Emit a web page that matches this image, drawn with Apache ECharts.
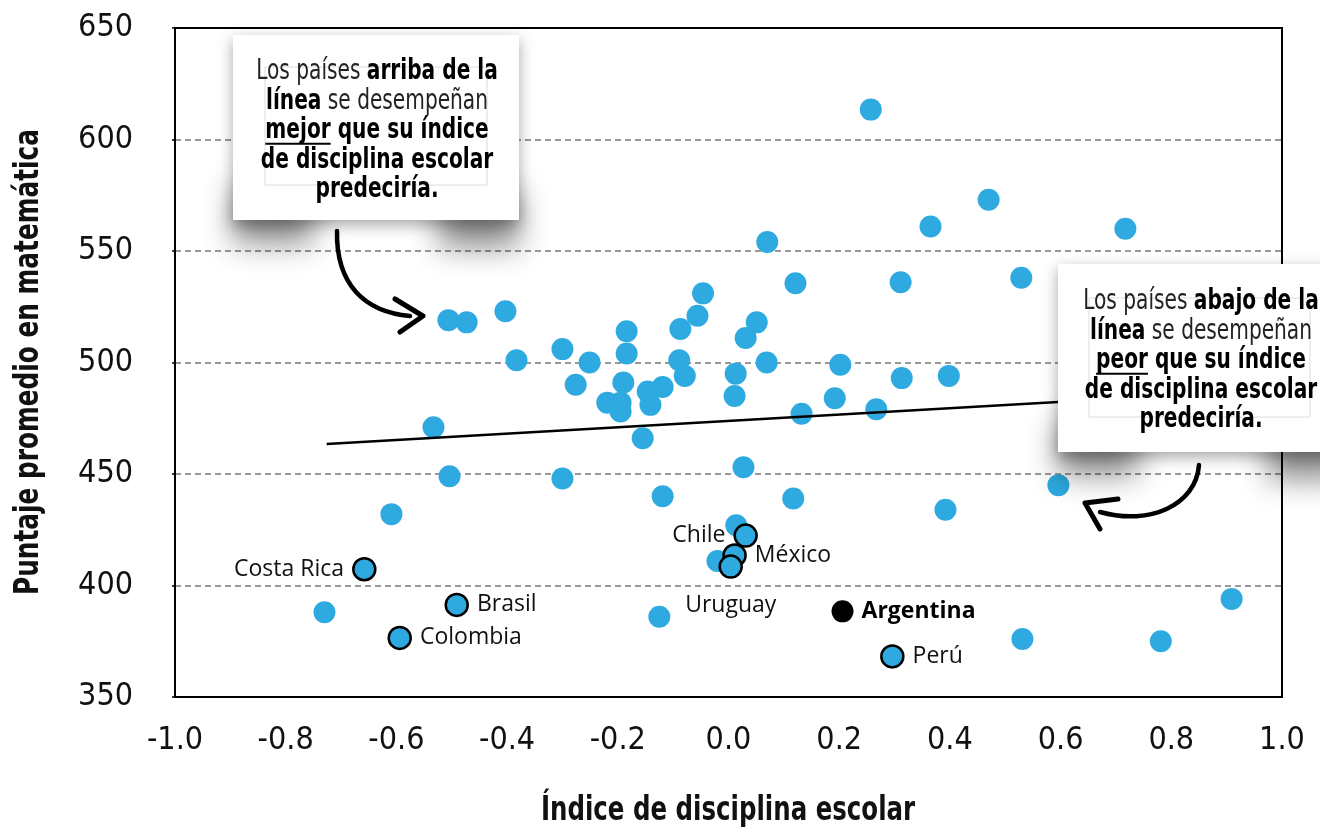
<!DOCTYPE html>
<html>
<head>
<meta charset="utf-8">
<script src="https://cdn.jsdelivr.net/npm/echarts@6/dist/echarts.min.js"></script>
<style>
  html, body { margin: 0; background: #fff; }
  #container { width: 1320px; height: 837px; }
</style>
</head>
<body>
<div id="container"></div>
<script>
// countries without a label: [discipline index, math score]
var otherPoints = [
  [0.257, 613.4], [0.470, 573], [0.365, 561], [0.717, 560], [0.070, 554], [0.529, 538], [0.121, 535.5], [0.311, 536],
  [-0.506, 519], [-0.473, 518], [-0.403, 523], [-0.046, 531], [-0.056, 521], [-0.087, 515], [-0.184, 514], [0.051, 518], [0.031, 511],
  [-0.300, 506], [-0.184, 504], [-0.383, 501], [-0.251, 500], [-0.089, 501], [0.069, 500], [0.202, 499], [0.398, 494], [0.313, 493],
  [0.013, 495], [-0.079, 494], [-0.276, 490], [-0.190, 491], [-0.119, 489], [-0.146, 487],
  [-0.219, 482], [-0.195, 482], [-0.195, 478], [-0.141, 481], [0.011, 485], [0.132, 477], [0.192, 484], [0.267, 479],
  [-0.155, 466], [-0.533, 471], [0.027, 453], [-0.504, 449], [-0.300, 448], [0.596, 445], [0.117, 439], [-0.119, 440],
  [0.392, 434], [-0.609, 432], [0.014, 427], [-0.020, 411],
  [-0.730, 388], [-0.125, 386], [0.531, 376], [0.781, 375], [0.909, 394]
];

// Latin American countries with labels
var countryNames = ['Costa Rica', 'Brasil', 'Colombia', 'Chile', 'México', 'Uruguay', 'Perú'];
var countryX = [-0.658, -0.491, -0.594, 0.031, 0.011, 0.004, 0.296];
var countryY = [407.3, 391.3, 376.5, 422.4, 413.5, 408.5, 368.2];

var argentinaName = 'Argentina';
var argentinaX = 0.206;
var argentinaY = 388.4;

// fitted line
var trendX = [-0.726, 0.91];
var trendY = [463.4, 486.8];

var xMin = -1, xMax = 1, xStep = 0.2;
var yMin = 350, yMax = 650, yStep = 50;

var xTitle = 'Índice de disciplina escolar';
var yTitle = 'Puntaje promedio en matemática';

var NARROW = '"DejaVu Sans Condensed", "DejaVu Sans", sans-serif';
var LABEL_FONT = '"Open Sans", sans-serif';
var BLUE = '#2eaae1';

var labelPos = { 'Costa Rica': 'left', 'Brasil': 'right', 'Colombia': 'right', 'Chile': 'left', 'México': 'right', 'Uruguay': 'bottom', 'Perú': 'right' };

var dom = document.getElementById('container');
var myChart = echarts.init(dom);

var countryData = countryNames.map(function (n, i) {
  return {
    name: n,
    value: [countryX[i], countryY[i]],
    label: {
      position: labelPos[n],
      distance: n === 'Uruguay' ? 15 : 8
    }
  };
});

// measure text for the underlines in the notes
var measureCtx = document.createElement('canvas').getContext('2d');
function textWidth(str, weight) {
  measureCtx.font = weight + ' 28px ' + NARROW;
  return measureCtx.measureText(str).width;
}

var LH = 29.5;
var SQUEEZE = 0.8;
function noteGraphics(box, inner, cx, top, lines, underWord, underRest) {
  var els = [];
  // curled shadow: two hidden shapes under the bottom corners
  els.push({
    type: 'rect', z: 100,
    shape: { x: box.x + 4, y: box.y + box.h - 60, width: 80, height: 55 },
    style: { fill: '#fff', shadowBlur: 30, shadowOffsetY: 28, shadowOffsetX: -4, shadowColor: 'rgba(0,0,0,0.45)' }
  });
  els.push({
    type: 'rect', z: 100,
    shape: { x: box.x + box.w - 84, y: box.y + box.h - 60, width: 80, height: 55 },
    style: { fill: '#fff', shadowBlur: 30, shadowOffsetY: 32, shadowOffsetX: 4, shadowColor: 'rgba(0,0,0,0.45)' }
  });
  els.push({
    type: 'rect', z: 101,
    shape: { x: box.x, y: box.y, width: box.w, height: box.h },
    style: { fill: '#fff', shadowBlur: 14, shadowOffsetY: 5, shadowColor: 'rgba(0,0,0,0.35)' }
  });
  els.push({
    type: 'rect', z: 102,
    shape: { x: inner.x, y: inner.y, width: inner.w, height: inner.h },
    style: { fill: 'none', stroke: '#dcdcdc', lineWidth: 1 }
  });
  els.push({
    type: 'text', z: 103,
    x: cx, y: top, scaleX: SQUEEZE,
    style: {
      text: lines.join('\n'),
      x: 0, y: 0,
      align: 'center', verticalAlign: 'top',
      fontFamily: NARROW, fontSize: 28, fontWeight: 'normal', lineHeight: LH,
      fill: '#111',
      rich: {
        r: { fontFamily: NARROW, fontSize: 28, fontWeight: 'normal', lineHeight: LH, fill: '#222' },
        b: { fontFamily: NARROW, fontSize: 28, fontWeight: 'bold', lineHeight: LH, fill: '#000' }
      }
    }
  });
  var w1 = textWidth(underWord, 'bold') * SQUEEZE;
  var w2 = textWidth(underRest, 'bold') * SQUEEZE;
  var ux = cx - (w1 + w2) / 2;
  var uy = top + LH * 2.5 + 13;
  els.push({
    type: 'line', z: 104,
    shape: { x1: ux, y1: uy, x2: ux + w1, y2: uy },
    style: { stroke: '#000', lineWidth: 2 }
  });
  return els;
}

var graphics = [];
graphics = graphics.concat(noteGraphics(
  { x: 233, y: 35, w: 286, h: 185 }, { x: 265, y: 67, w: 222, h: 118 }, 377, 57,
  ['{r|Los países }{b|arriba de la}', '{b|línea}{r| se desempeñan}', '{b|mejor}{b| que su índice}', '{b|de disciplina escolar}', '{b|predeciría.}'],
  'mejor', ' que su índice'
));
graphics = graphics.concat(noteGraphics(
  { x: 1058, y: 264, w: 290, h: 188 }, { x: 1089, y: 298, w: 221, h: 119 }, 1201, 287,
  ['{r|Los países }{b|abajo de la}', '{b|línea}{r| se desempeñan}', '{b|peor}{b| que su índice}', '{b|de disciplina escolar}', '{b|predeciría.}'],
  'peor', ' que su índice'
));

// hand drawn arrows
graphics.push({
  type: 'bezierCurve', z: 110,
  shape: { x1: 337, y1: 231, cpx1: 336, cpy1: 285, cpx2: 365, cpy2: 312, x2: 410, y2: 316 },
  style: { stroke: '#000', lineWidth: 4.5, fill: 'none', lineCap: 'round' }
});
graphics.push({
  type: 'polyline', z: 110,
  shape: { points: [[395, 299], [423, 316], [400, 332]] },
  style: { stroke: '#000', lineWidth: 5, fill: 'none', lineCap: 'round', lineJoin: 'round' }
});
graphics.push({
  type: 'bezierCurve', z: 110,
  shape: { x1: 1199, y1: 465, cpx1: 1196, cpy1: 505, cpx2: 1150, cpy2: 526, x2: 1100, y2: 512 },
  style: { stroke: '#000', lineWidth: 4.5, fill: 'none', lineCap: 'round' }
});
graphics.push({
  type: 'polyline', z: 110,
  shape: { points: [[1118, 499], [1085, 503], [1100, 529]] },
  style: { stroke: '#000', lineWidth: 5, fill: 'none', lineCap: 'round', lineJoin: 'round' }
});

// axis titles (condensed by scaling)
graphics.push({
  type: 'text', z: 50, x: 728, y: 811, scaleX: 0.8,
  style: { text: xTitle, x: 0, y: 0, align: 'center', verticalAlign: 'middle', fontFamily: NARROW, fontWeight: 'bold', fontSize: 34, fill: '#111' }
});
graphics.push({
  type: 'text', z: 50, x: 29, y: 362, rotation: Math.PI / 2, scaleX: 0.81,
  style: { text: yTitle, x: 0, y: 0, align: 'center', verticalAlign: 'middle', fontFamily: NARROW, fontWeight: 'bold', fontSize: 34, fill: '#111' }
});

var option = {
  animation: false,
  backgroundColor: '#fff',
  grid: { left: 175, top: 28, width: 1107, height: 669, show: true, borderColor: '#000', borderWidth: 2 },
  xAxis: {
    type: 'value', min: xMin, max: xMax, interval: xStep,
    axisLine: { show: true, onZero: false, lineStyle: { color: '#000', width: 2 } },
    axisTick: { show: false }, splitLine: { show: false },
    axisLabel: {
      margin: 28, fontFamily: NARROW, fontSize: 32, color: '#111',
      formatter: function (v) { return v.toFixed(1); }
    }
  },
  yAxis: {
    type: 'value', min: yMin, max: yMax, interval: yStep,
    axisLine: { show: true, onZero: false, lineStyle: { color: '#000', width: 2 } },
    axisTick: { show: true, length: 3, lineStyle: { color: '#000', width: 1.5 } },
    axisLabel: { margin: 42, fontFamily: NARROW, fontSize: 32, color: '#111' },
    splitLine: { show: true, showMinLine: false, showMaxLine: false, lineStyle: { color: '#999', width: 2, type: [6, 4] } }
  },
  series: [
    {
      type: 'scatter', name: 'otros', z: 2,
      data: otherPoints, symbolSize: 22,
      itemStyle: { color: BLUE, opacity: 1 }
    },
    {
      type: 'line', name: 'tendencia', z: 4,
      data: trendX.map(function (x, i) { return [x, trendY[i]]; }),
      showSymbol: false, symbol: 'none',
      lineStyle: { color: '#000', width: 2.5 }
    },
    {
      type: 'scatter', name: 'países', z: 5,
      data: countryData, symbolSize: 22,
      itemStyle: { color: BLUE, borderColor: '#000', borderWidth: 2.5, opacity: 1 },
      label: {
        show: true, formatter: '{b}',
        fontFamily: LABEL_FONT, fontSize: 23, color: '#111'
      }
    },
    {
      type: 'scatter', name: 'Argentina', z: 5,
      data: [{ name: argentinaName, value: [argentinaX, argentinaY] }], symbolSize: 22,
      itemStyle: { color: '#000', opacity: 1 },
      label: {
        show: true, formatter: '{b}', position: 'right', distance: 8,
        fontFamily: LABEL_FONT, fontSize: 23, fontWeight: 'bold', color: '#000'
      }
    }
  ],
  graphic: graphics
};

myChart.setOption(option);
</script>
</body>
</html>
